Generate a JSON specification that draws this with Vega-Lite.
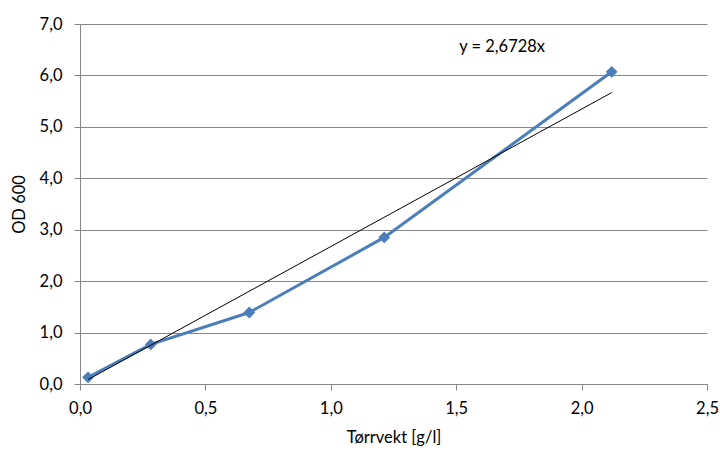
{
  "$schema": "https://vega.github.io/schema/vega-lite/v6.json",
  "width": 627,
  "height": 360,
  "autosize": "none",
  "padding": {"left": 80, "top": 24, "right": 13, "bottom": 65},
  "background": "white",
  "config": {
    "view": {"stroke": null},
    "font": "Lato"
  },
  "datasets": {
    "points": [
      {"x": 0.032, "y": 0.13},
      {"x": 0.282, "y": 0.77},
      {"x": 0.675, "y": 1.39},
      {"x": 1.213, "y": 2.85},
      {"x": 2.12, "y": 6.07}
    ],
    "trend": [
      {"x": 0.032, "y": 0.0855},
      {"x": 2.12, "y": 5.666}
    ],
    "label": [
      {"x": 1.683, "y": 6.55, "text": "y = 2,6728x"}
    ]
  },
  "layer": [
    {
      "data": {"name": "points"},
      "mark": {"type": "line", "color": "#4a7ebb", "strokeWidth": 3},
      "encoding": {
        "x": {
          "field": "x", "type": "quantitative",
          "scale": {"domain": [0, 2.5], "nice": false},
          "axis": {
            "values": [0, 0.5, 1, 1.5, 2, 2.5],
            "labelExpr": "replace(format(datum.value, '.1f'), '.', ',')",
            "labelFlush": false,
            "labelOverlap": false,
            "title": "Tørrvekt [g/l]",
            "grid": false,
            "domainColor": "#868686",
            "tickColor": "#868686",
            "tickSize": 6,
            "labelFontSize": 16.5,
            "labelColor": "#000000",
            "labelFont": "Lato",
            "labelPadding": 10,
            "titleFontSize": 16.5,
            "titleFontWeight": "normal",
            "titleColor": "#000000",
            "titleFont": "Lato",
            "titlePadding": 13
          }
        },
        "y": {
          "field": "y", "type": "quantitative",
          "scale": {"domain": [0, 7], "nice": false},
          "axis": {
            "values": [0, 1, 2, 3, 4, 5, 6, 7],
            "labelExpr": "replace(format(datum.value, '.1f'), '.', ',')",
            "labelFlush": false,
            "labelOverlap": false,
            "title": "OD 600",
            "grid": true,
            "gridColor": "#868686",
            "gridWidth": 1,
            "domainColor": "#868686",
            "tickColor": "#868686",
            "tickSize": 6,
            "labelFontSize": 16.5,
            "labelColor": "#000000",
            "labelFont": "Lato",
            "labelPadding": 12,
            "titleFontSize": 16.5,
            "titleFontWeight": "normal",
            "titleColor": "#000000",
            "titleFont": "Lato",
            "titlePadding": 12
          }
        }
      }
    },
    {
      "data": {"name": "points"},
      "mark": {"type": "point", "shape": "diamond", "filled": true, "color": "#4a7ebb", "size": 140, "opacity": 1},
      "encoding": {
        "x": {"field": "x", "type": "quantitative"},
        "y": {"field": "y", "type": "quantitative"}
      }
    },
    {
      "data": {"name": "trend"},
      "mark": {"type": "line", "color": "#000000", "strokeWidth": 1},
      "encoding": {
        "x": {"field": "x", "type": "quantitative"},
        "y": {"field": "y", "type": "quantitative"}
      }
    },
    {
      "data": {"name": "label"},
      "mark": {"type": "text", "fontSize": 16.5, "font": "Lato", "color": "#000000", "align": "center", "baseline": "middle"},
      "encoding": {
        "x": {"field": "x", "type": "quantitative"},
        "y": {"field": "y", "type": "quantitative"},
        "text": {"field": "text"}
      }
    }
  ]
}
